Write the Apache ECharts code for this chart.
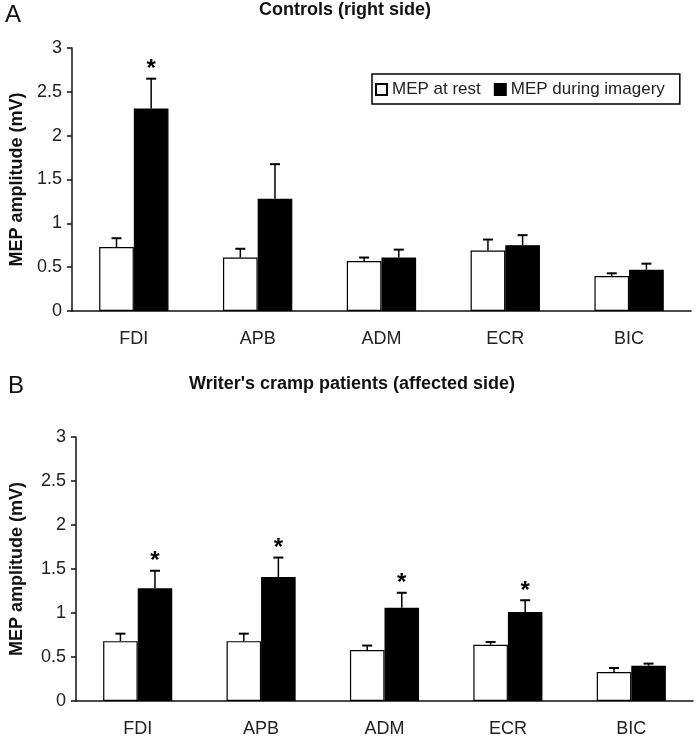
<!DOCTYPE html>
<html>
<head>
<meta charset="utf-8">
<script src="https://cdn.jsdelivr.net/npm/echarts@6/dist/echarts.min.js"></script>
<style>
html,body{margin:0;padding:0;background:#fff;}
#chart{width:696px;height:740px;}
</style>
</head>
<body>
<div id="chart"></div>
<script>
// ---- data ----
var categories = ['FDI', 'APB', 'ADM', 'ECR', 'BIC'];
var yTicks = [0, 0.5, 1, 1.5, 2, 2.5, 3];

// Panel A: controls (right side)
var ctrlRest    = [0.73, 0.61, 0.57, 0.69, 0.40];
var ctrlRestErr = [0.10, 0.10, 0.04, 0.125, 0.03];
var ctrlImag    = [2.31, 1.28, 0.61, 0.75, 0.47];
var ctrlImagErr = [0.34, 0.395, 0.09, 0.115, 0.07];
var ctrlStar    = [1, 0, 0, 0, 0];

// Panel B: writer's cramp patients (affected side)
var patRest    = [0.68, 0.68, 0.58, 0.64, 0.33];
var patRestErr = [0.085, 0.085, 0.05, 0.03, 0.045];
var patImag    = [1.28, 1.41, 1.06, 1.01, 0.40];
var patImagErr = [0.20, 0.22, 0.17, 0.135, 0.025];
var patStar    = [1, 1, 1, 1, 0];

var FONT = '"Liberation Sans", Arial, sans-serif';
var BAR_FRAC = 0.28;

function errSeries(idx, means, errs, stars, side) {
  var data = means.map(function (m, i) { return [i, m, errs[i], stars ? stars[i] : 0]; });
  return {
    type: 'custom',
    xAxisIndex: idx, yAxisIndex: idx,
    z: 5,
    silent: true,
    encode: { x: 0, y: 1 },
    data: data,
    renderItem: function (params, api) {
      var i = api.value(0), m = api.value(1), e = api.value(2), s = api.value(3);
      var band = api.size([1, 0])[0];
      var bw = band * BAR_FRAC;
      var base = api.coord([i, m]);
      var top = api.coord([i, m + e]);
      var x = base[0] + side * bw / 2;
      var children = [
        { type: 'line', shape: { x1: x, y1: base[1], x2: x, y2: top[1] }, style: { stroke: '#000', lineWidth: 1.5 } },
        { type: 'line', shape: { x1: x - 5, y1: top[1], x2: x + 5, y2: top[1] }, style: { stroke: '#000', lineWidth: 2 } }
      ];
      if (s) {
        children.push({ type: 'text', style: { x: x, y: top[1] - 9, text: '*', fill: '#000', font: 'bold 24px ' + FONT, align: 'center', verticalAlign: 'middle' } });
      }
      return { type: 'group', children: children };
    }
  };
}

function barSeries(idx, name, values, dark) {
  return {
    type: 'bar', name: name,
    xAxisIndex: idx, yAxisIndex: idx,
    data: values,
    barWidth: (BAR_FRAC * 100) + '%',
    barGap: '0%',
    itemStyle: dark ? { color: '#000', borderColor: '#000', borderWidth: 1.2 } : { color: '#fff', borderColor: '#000', borderWidth: 1.2 },
    emphasis: { disabled: true }
  };
}

var axisLineStyle = { color: '#111', width: 1.5 };

function xAxisCfg(idx) {
  return {
    type: 'category', gridIndex: idx, data: categories,
    axisLine: { lineStyle: axisLineStyle },
    axisTick: { show: false },
    axisLabel: { color: '#222', fontSize: 18, fontFamily: FONT, margin: 19 }
  };
}
function yAxisCfg(idx, gap) {
  return {
    type: 'value', gridIndex: idx, min: yTicks[0], max: yTicks[yTicks.length - 1], interval: yTicks[1] - yTicks[0],
    splitLine: { show: false },
    axisLine: { show: true, lineStyle: axisLineStyle },
    axisTick: { show: true, length: 5, lineStyle: axisLineStyle },
    axisLabel: { color: '#222', fontSize: 18, fontFamily: FONT, margin: 10 },
    name: 'MEP amplitude (mV)', nameLocation: 'middle', nameGap: gap,
    nameTextStyle: { color: '#111', fontSize: 18, fontWeight: 'bold', fontFamily: FONT }
  };
}

var chart = echarts.init(document.getElementById('chart'), null, { renderer: 'canvas' });
chart.setOption({
  animation: false,
  backgroundColor: '#fff',
  grid: [
    { left: 70, top: 48, width: 621, height: 263 },
    { left: 73, top: 437, width: 620, height: 264 }
  ],
  xAxis: [xAxisCfg(0), xAxisCfg(1)],
  yAxis: [yAxisCfg(0, 45), yAxisCfg(1, 50)],
  legend: {
    data: ['MEP at rest', 'MEP during imagery'],
    left: 372, top: 74,
    orient: 'horizontal',
    icon: 'rect', itemWidth: 11, itemHeight: 11, itemGap: 13,
    padding: [7, 15, 6, 3],
    borderColor: '#000', borderWidth: 1.5,
    textStyle: { color: '#222', fontSize: 17, fontFamily: FONT },
    selectedMode: false
  },
  graphic: [
    { type: 'text', left: 5, top: 3, style: { text: 'A', font: '24px ' + FONT, fill: '#111' } },
    { type: 'text', left: 8, top: 374, style: { text: 'B', font: '24px ' + FONT, fill: '#111' } },
    { type: 'text', x: 345, y: 10, style: { text: 'Controls (right side)', font: 'bold 18px ' + FONT, fill: '#111', align: 'center', verticalAlign: 'middle' } },
    { type: 'text', x: 352, y: 384, style: { text: "Writer's cramp patients (affected side)", font: 'bold 18px ' + FONT, fill: '#111', align: 'center', verticalAlign: 'middle' } }
  ],
  series: [
    barSeries(0, 'MEP at rest', ctrlRest, false),
    barSeries(0, 'MEP during imagery', ctrlImag, true),
    errSeries(0, ctrlRest, ctrlRestErr, null, -1),
    errSeries(0, ctrlImag, ctrlImagErr, ctrlStar, 1),
    barSeries(1, 'MEP at rest', patRest, false),
    barSeries(1, 'MEP during imagery', patImag, true),
    errSeries(1, patRest, patRestErr, null, -1),
    errSeries(1, patImag, patImagErr, patStar, 1)
  ]
});
</script>
</body>
</html>
